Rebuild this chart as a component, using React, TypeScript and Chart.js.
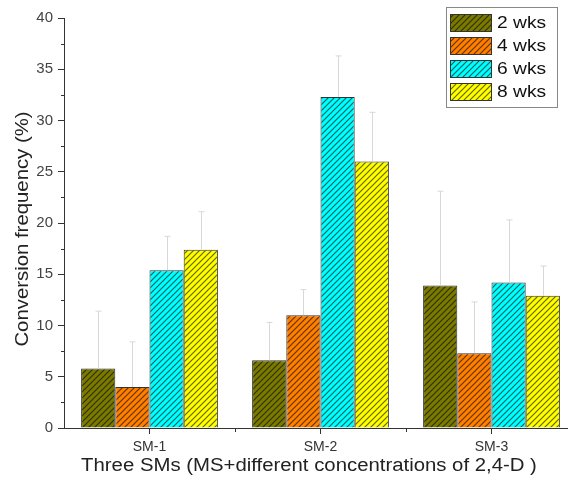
import React, { useEffect, useRef } from 'react';
import { Chart, registerables } from 'chart.js';
Chart.register(...registerables);

const categories = ['SM-1', 'SM-2', 'SM-3'];
const seriesLabels = ['2 wks', '4 wks', '6 wks', '8 wks'];
const wk2 = [5.8, 6.6, 13.9];
const wk4 = [4.0, 11.0, 7.3];
const wk6 = [15.4, 32.3, 14.2];
const wk8 = [17.4, 26.0, 12.9];
const err2 = [5.6, 3.7, 9.2];
const err4 = [4.4, 2.5, 5.0];
const err6 = [3.3, 4.0, 6.1];
const err8 = [3.7, 4.8, 2.9];
const seriesColors = ['#7a7a00', '#ff7f00', '#00ffff', '#ffff00'];
const yTitle = 'Conversion frequency (%)';
const xTitle = 'Three SMs (MS+different concentrations of 2,4-D )';

const values = [wk2, wk4, wk6, wk8];
const errors = [err2, err4, err6, err8];

const FONT = 'Arial, "Liberation Sans", sans-serif';
const STRETCH = 1.13;

function makePattern(color: string): CanvasPattern | string {
  const s = 6;
  const c = document.createElement('canvas');
  c.width = s;
  c.height = s;
  const ctx = c.getContext('2d');
  if (!ctx) return color;
  ctx.fillStyle = color;
  ctx.fillRect(0, 0, s, s);
  ctx.strokeStyle = 'rgba(0,0,0,0.6)';
  ctx.lineWidth = 1.2;
  ctx.beginPath();
  ctx.moveTo(-1, s + 1);
  ctx.lineTo(s + 1, -1);
  ctx.moveTo(-1, 1);
  ctx.lineTo(1, -1);
  ctx.moveTo(s - 1, s + 1);
  ctx.lineTo(s + 1, s - 1);
  ctx.stroke();
  const p = ctx.createPattern(c, 'repeat');
  return p || color;
}

function stretchedText(ctx: CanvasRenderingContext2D, text: string, x: number, y: number, align: 'left' | 'center') {
  ctx.save();
  ctx.translate(x, y);
  ctx.scale(STRETCH, 1);
  ctx.textAlign = align;
  ctx.textBaseline = 'middle';
  ctx.fillText(text, 0, 0);
  ctx.restore();
}

const extrasPlugin = {
  id: 'extras',
  afterDatasetsDraw(chart: any) {
    const ctx = chart.ctx;
    const yScale = chart.scales.y;
    ctx.save();
    ctx.strokeStyle = '#d8d8d8';
    ctx.lineWidth = 1;
    chart.data.datasets.forEach((ds: any, i: number) => {
      const meta = chart.getDatasetMeta(i);
      meta.data.forEach((el: any, j: number) => {
        const v = ds.data[j];
        const e = errors[i][j];
        const x = Math.round(el.x) + 0.5;
        const yt = yScale.getPixelForValue(v + e);
        ctx.beginPath();
        ctx.moveTo(x, el.y);
        ctx.lineTo(x, yt);
        ctx.moveTo(x - 3, yt);
        ctx.lineTo(x + 3, yt);
        ctx.stroke();
      });
    });
    ctx.restore();
  },
  afterDraw(chart: any) {
    const ctx = chart.ctx;
    const area = chart.chartArea;
    const yScale = chart.scales.y;
    const xScale = chart.scales.x;
    ctx.save();
    // minor ticks
    ctx.strokeStyle = '#333';
    ctx.lineWidth = 1;
    ctx.beginPath();
    for (let v = 2.5; v < 40; v += 5) {
      const y = Math.round(yScale.getPixelForValue(v)) + 0.5;
      ctx.moveTo(area.left - 3, y);
      ctx.lineTo(area.left, y);
    }
    for (let k = 0; k < categories.length - 1; k++) {
      const x = Math.round((xScale.getPixelForValue(k) + xScale.getPixelForValue(k + 1)) / 2) + 0.5;
      ctx.moveTo(x, area.bottom);
      ctx.lineTo(x, area.bottom + 4);
    }
    ctx.stroke();

    // axis titles
    ctx.fillStyle = '#222';
    ctx.font = '18px ' + FONT;
    stretchedText(ctx, xTitle, 309, 466, 'center');
    ctx.save();
    ctx.translate(23, 229);
    ctx.rotate(-Math.PI / 2);
    ctx.scale(STRETCH, 1);
    ctx.textAlign = 'center';
    ctx.textBaseline = 'middle';
    ctx.fillText(yTitle, 0, 0);
    ctx.restore();

    // legend
    const lx = 446.5, ly = 7.5, lw = 111, lh = 100;
    ctx.fillStyle = '#fff';
    ctx.fillRect(lx, ly, lw, lh);
    ctx.strokeStyle = '#888';
    ctx.strokeRect(lx, ly, lw, lh);
    chart.data.datasets.forEach((ds: any, i: number) => {
      const sy = 14 + i * 23;
      ctx.fillStyle = ds.backgroundColor;
      ctx.fillRect(450, sy, 41, 17);
      ctx.strokeStyle = '#333';
      ctx.strokeRect(450.5, sy + 0.5, 41, 17);
      ctx.fillStyle = '#111';
      ctx.font = '17px ' + FONT;
      stretchedText(ctx, ds.label, 497, sy + 9.5, 'left');
    });
    ctx.restore();
  },
};

export default function App() {
  const ref = useRef<HTMLCanvasElement | null>(null);
  useEffect(() => {
    if (!ref.current) return;
    const chart = new Chart(ref.current, {
      type: 'bar',
      data: {
        labels: categories,
        datasets: seriesLabels.map((label, i) => ({
          label,
          data: values[i],
          backgroundColor: makePattern(seriesColors[i]) as any,
          borderColor: '#333',
          borderWidth: 1,
          barPercentage: 1,
          categoryPercentage: 0.8,
        })),
      },
      options: {
        animation: false,
        responsive: false,
        maintainAspectRatio: false,
        layout: { padding: { top: 18, right: 3, left: 0, bottom: 0 } },
        plugins: { legend: { display: false }, tooltip: { enabled: false } },
        scales: {
          x: {
            grid: { offset: false, drawOnChartArea: false, drawTicks: true, tickLength: 6, color: '#333' },
            border: { display: true, color: '#333', width: 1 },
            ticks: { color: '#333', font: { family: FONT, size: 14 }, padding: 5 },
            afterFit: (s: any) => { s.height = 51; },
          },
          y: {
            min: 0,
            max: 40,
            grid: { drawOnChartArea: false, drawTicks: true, tickLength: 6, color: '#333' },
            border: { display: true, color: '#333', width: 1 },
            ticks: { stepSize: 5, color: '#444', font: { family: FONT, size: 15 }, padding: 5 },
            afterFit: (s: any) => { s.width = 64; },
          },
        },
      },
      plugins: [extrasPlugin],
    });
    return () => chart.destroy();
  }, []);
  return (
    <div style={{ position: 'fixed', left: 0, top: 0, width: 568, height: 479, overflow: 'hidden', background: '#fff' }}>
      <canvas ref={ref} width={580} height={479} style={{ width: 580, height: 479, display: 'block' }} />
    </div>
  );
}
